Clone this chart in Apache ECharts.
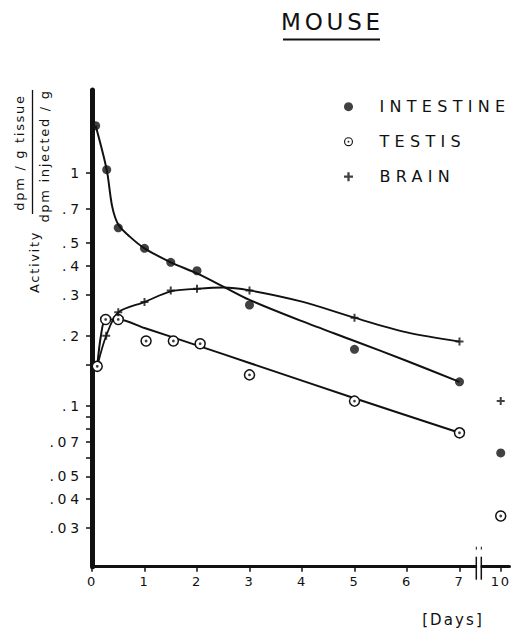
<!DOCTYPE html>
<html><head><meta charset="utf-8">
<script src="https://cdn.jsdelivr.net/npm/echarts@6/dist/echarts.min.js"></script>
<style>
html,body{margin:0;padding:0;background:#fff}
#chart{width:512px;height:633px}
#chart text{letter-spacing:0.27em}
#chart text[style*="13px"]{letter-spacing:0.13em}
#chart text[style*="15px"]{letter-spacing:0.14em}
#chart text[style*="16px"]{letter-spacing:0.33em}
#chart text[style*="23px"]{letter-spacing:0.165em}
</style></head><body><div id="chart"></div>
<script>
// ---- data ----
const chartTitle = 'MOUSE';
const seriesNames = ['INTESTINE', 'TESTIS', 'BRAIN'];
const xTickValues = [0, 1, 2, 3, 4, 5, 6, 7, 10];
const yLabelValues = [1, 0.7, 0.5, 0.4, 0.3, 0.2, 0.1, 0.07, 0.05, 0.04, 0.03];
const yTickValues = [1, 0.7, 0.5, 0.4, 0.3, 0.2, 0.15, 0.1, 0.09, 0.08, 0.07, 0.06, 0.05, 0.04, 0.03];
const xBreak = [7.32, 9.63];
const xRange = [0, 10.17];
const yRange = [0.0205, 2.26];

const intestineDays = [0.07, 0.28, 0.5, 1, 1.5, 2, 3, 5, 7, 10];
const intestineVals = [1.59, 1.03, 0.58, 0.474, 0.413, 0.38, 0.271, 0.175, 0.127, 0.063];
const testisDays = [0.1, 0.26, 0.5, 1.03, 1.55, 2.06, 3, 5, 7, 10];
const testisVals = [0.148, 0.235, 0.235, 0.19, 0.19, 0.185, 0.136, 0.105, 0.0768, 0.0338];
const brainDays = [0.27, 0.5, 1, 1.5, 2, 3, 5, 7, 10];
const brainVals = [0.2, 0.252, 0.279, 0.313, 0.318, 0.313, 0.239, 0.189, 0.105];

// hand-drawn fitted curves
const intestineCurveDays = [0.07, 0.28, 0.385, 0.5, 0.72, 1, 1.5, 2, 2.5, 3, 4, 5, 6, 7];
const intestineCurveVals = [1.59, 1.03, 0.715, 0.6, 0.532, 0.474, 0.413, 0.37, 0.325, 0.285, 0.231, 0.19, 0.156, 0.127];
const testisCurveDays = [0.1, 0.17, 0.26, 0.5, 1, 2, 3, 5, 7];
const testisCurveVals = [0.148, 0.2, 0.235, 0.235, 0.216, 0.182, 0.153, 0.108, 0.0768];
const brainCurveDays = [0.1, 0.27, 0.5, 1, 1.5, 2, 2.5, 3, 4, 5, 6, 7];
const brainCurveVals = [0.148, 0.2, 0.252, 0.279, 0.31, 0.318, 0.322, 0.313, 0.28, 0.239, 0.207, 0.189];

// ---- chart ----
const zip = (xs, ys) => xs.map((x, i) => [x, ys[i]]);
const FONT = 'DejaVu Sans';
const ringPath = 'path://M10,0A10,10,0,1,1,10,20A10,10,0,1,1,10,0ZM10,2.5A7.5,7.5,0,1,0,10,17.5A7.5,7.5,0,1,0,10,2.5ZM10,8A2,2,0,1,1,10,12A2,2,0,1,1,10,8Z';
const plusPath = 'path://M3,0H5V3H8V5H5V8H3V5H0V3H3Z';
const fmtY = v => { const n = Number(Number(v).toPrecision(3)); return n >= 1 ? String(n) : String(n).replace(/^0/, ''); };

const chart = echarts.init(document.getElementById('chart'), null, {renderer: 'svg'});
const option = {
  animation: false,
  backgroundColor: '#fff',
  title: {
    text: chartTitle, left: 281, top: 10, padding: 0,
    textStyle: {fontFamily: FONT, fontSize: 23, fontWeight: 'normal', color: '#111'}
  },
  legend: {
    orient: 'vertical', left: 339, top: 93.7, itemWidth: 52, itemHeight: 9, itemGap: 19,
    textStyle: {fontFamily: FONT, fontSize: 16, color: '#111'},
    data: [
      {name: seriesNames[0], icon: 'circle', itemStyle: {color: '#111', borderWidth: 0}},
      {name: seriesNames[1], icon: ringPath, itemStyle: {color: '#111', borderWidth: 0}},
      {name: seriesNames[2], icon: plusPath, itemStyle: {color: '#111', borderWidth: 0}}
    ]
  },
  grid: {left: 92, top: 90, right: 2, bottom: 66.3, containLabel: false},
  xAxis: {
    type: 'value', min: xRange[0], max: xRange[1], interval: 1,
    breaks: [{start: xBreak[0], end: xBreak[1], gap: '1.2%'}],
    breakArea: {show: false},
    splitLine: {show: false},
    axisLine: {lineStyle: {color: '#111', width: 3}},
    axisTick: {length: 5, lineStyle: {color: '#111', width: 1.5}, customValues: xTickValues},
    axisLabel: {customValues: xTickValues, margin: 8, color: '#111', fontFamily: FONT, fontSize: 13,
      formatter: v => String(Math.round(v))}
  },
  yAxis: {
    type: 'log', logBase: 10, min: yRange[0], max: yRange[1],
    splitLine: {show: false}, minorTick: {show: false},
    axisLine: {lineStyle: {color: '#111', width: 5}},
    axisTick: {length: 6, lineStyle: {color: '#111', width: 1.5}, customValues: yTickValues},
    axisLabel: {customValues: yLabelValues, margin: 9, color: '#111', fontFamily: FONT, fontSize: 14, formatter: fmtY}
  },
  series: [
    {type: 'line', name: 'intestine curve', data: zip(intestineCurveDays, intestineCurveVals), smooth: 0.3,
      showSymbol: false, lineStyle: {color: '#111', width: 2}, z: 2, silent: true},
    {type: 'line', name: 'testis curve', data: zip(testisCurveDays, testisCurveVals), smooth: 0.3,
      showSymbol: false, lineStyle: {color: '#111', width: 2}, z: 2, silent: true},
    {type: 'line', name: 'brain curve', data: zip(brainCurveDays, brainCurveVals), smooth: 0.3,
      showSymbol: false, lineStyle: {color: '#111', width: 1.8}, z: 2, silent: true},
    {type: 'scatter', name: seriesNames[0], data: zip(intestineDays, intestineVals), symbol: 'circle', symbolSize: 9,
      itemStyle: {color: '#111'}, z: 5},
    {type: 'scatter', name: seriesNames[1], data: zip(testisDays, testisVals), symbol: 'circle', symbolSize: 10,
      itemStyle: {color: '#fff', borderColor: '#111', borderWidth: 1.5, opacity: 1}, z: 5},
    {type: 'scatter', name: 'testis centre', data: zip(testisDays, testisVals), symbol: 'circle', symbolSize: 2.8,
      itemStyle: {color: '#111'}, z: 6},
    {type: 'scatter', name: seriesNames[2], data: zip(brainDays, brainVals), symbol: plusPath, symbolSize: 8,
      itemStyle: {color: '#111'}, z: 5}
  ],
  graphic: [
    {type: 'line', id: 'underline', shape: {x1: 283, y1: 39.5, x2: 380, y2: 39.5}, style: {stroke: '#111', lineWidth: 2}},
    {type: 'text', id: 'activity', x: 34, y: 262, rotation: Math.PI / 2,
      style: {text: 'Activity', fontFamily: FONT, fontSize: 13, fill: '#111', textAlign: 'center', textVerticalAlign: 'middle', align: 'center', verticalAlign: 'middle'}},
    {type: 'text', id: 'num', x: 19, y: 152.5, rotation: Math.PI / 2,
      style: {text: 'dpm / g tissue', fontFamily: FONT, fontSize: 13, fill: '#111', textAlign: 'center', textVerticalAlign: 'middle', align: 'center', verticalAlign: 'middle'}},
    {type: 'line', id: 'fracline', shape: {x1: 32.5, y1: 90, x2: 32.5, y2: 214}, style: {stroke: '#111', lineWidth: 1.3}},
    {type: 'text', id: 'den', x: 44, y: 156, rotation: Math.PI / 2,
      style: {text: 'dpm injected / g', fontFamily: FONT, fontSize: 13, fill: '#111', textAlign: 'center', textVerticalAlign: 'middle', align: 'center', verticalAlign: 'middle'}},
    {type: 'text', id: 'days', x: 453, y: 620,
      style: {text: '[Days]', fontFamily: FONT, fontSize: 15, fill: '#111', textAlign: 'center', textVerticalAlign: 'middle', align: 'center', verticalAlign: 'middle'}}
  ]
};
chart.setOption(option);

// axis-break marks, positioned through the x axis scale
const bx0 = chart.convertToPixel({xAxisIndex: 0}, xBreak[0]);
const bx1 = chart.convertToPixel({xAxisIndex: 0}, xBreak[1]);
const ay = chart.convertToPixel({yAxisIndex: 0}, yRange[0]);
chart.setOption({graphic: [
  {type: 'rect', id: 'brkGap', shape: {x: bx0 + 0.8, y: ay - 3, width: Math.max(bx1 - bx0 - 1.6, 1), height: 6}, style: {fill: '#fff'}, z: 50},
  {type: 'line', id: 'brkL', shape: {x1: bx0, y1: ay - 10, x2: bx0, y2: ay + 13}, style: {stroke: '#111', lineWidth: 1.5}, z: 51},
  {type: 'line', id: 'brkR', shape: {x1: bx1, y1: ay - 10, x2: bx1, y2: ay + 13}, style: {stroke: '#111', lineWidth: 1.5}, z: 51},
  {type: 'line', id: 'brkLd', shape: {x1: bx0, y1: ay - 20, x2: bx0, y2: ay - 17}, style: {stroke: '#111', lineWidth: 1}, z: 51},
  {type: 'line', id: 'brkRd', shape: {x1: bx1, y1: ay - 20, x2: bx1, y2: ay - 17}, style: {stroke: '#111', lineWidth: 1}, z: 51}
]});
</script></body></html>
